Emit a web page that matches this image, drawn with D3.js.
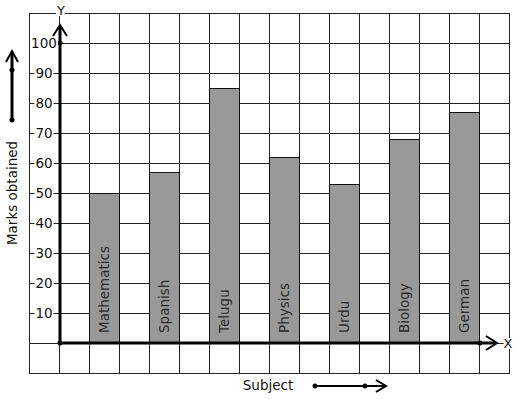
<!DOCTYPE html>
<html><head><meta charset="utf-8">
<script src="https://cdn.jsdelivr.net/npm/d3@7"></script>
<style>body{margin:0;background:#fff}svg{display:block}text{font-family:"DejaVu Sans",sans-serif}</style>
</head><body><svg id="c" width="517" height="399"></svg>
<script>
const categories = ["Mathematics","Spanish","Telugu","Physics","Urdu","Biology","German"];
const marks = [50,57,85,62,53,68,77];
const yTicks = [10,20,30,40,50,60,70,80,90,100];
const xTitle = "Subject", yTitle = "Marks obtained";

const svg = d3.select("#c");
const x = d3.scaleBand().domain(categories).range([60,510]).paddingInner(0.5).paddingOuter(0.5);
const y = d3.scaleLinear().domain([0,100]).range([343,43]);
const gx = d3.scaleLinear().domain([-1,15]).range([30,510]);
const gy = d3.scaleLinear().domain([-1,11]).range([373,13]);

// grid
const grid = svg.append("g").attr("stroke","#222").attr("stroke-width",1);
d3.range(-1,16).forEach(i=>grid.append("line").attr("x1",gx(i)-0.5).attr("x2",gx(i)-0.5).attr("y1",13).attr("y2",373));
d3.range(-1,12).forEach(j=>grid.append("line").attr("y1",Math.round(gy(j))+0.5).attr("y2",Math.round(gy(j))+0.5).attr("x1",29).attr("x2",510));

// bars
svg.append("g").selectAll("rect").data(marks).join("rect")
 .attr("x",(d,i)=>x(categories[i])-0.5).attr("width",x.bandwidth())
 .attr("y",d=>y(d)+0.5).attr("height",d=>y(0)-y(d))
 .attr("fill","#999").attr("stroke","#111").attr("stroke-width",1);

// bar labels
svg.append("g").selectAll("text").data(categories).join("text")
 .attr("transform",d=>`translate(${x(d)+x.bandwidth()/2+4},${y(0)-10}) rotate(-90)`)
 .attr("font-size",13.5).attr("fill","#2a2a2a").text(d=>d);

// axes
const ax = svg.append("g").attr("stroke","#000").attr("stroke-width",3).attr("fill","none");
ax.append("line").attr("x1",60).attr("x2",60).attr("y1",y(0)).attr("y2",26);
ax.append("line").attr("x1",60).attr("x2",496).attr("y1",y(0)).attr("y2",y(0));
ax.append("path").attr("stroke-width",2).attr("d","M53,36 L60,25 L67,36");
ax.append("path").attr("stroke-width",2).attr("d","M486,336 L497,343 L486,350");
[[60,y(0)],[60,y(100)],[480,y(0)]].forEach(p=>svg.append("circle").attr("cx",p[0]).attr("cy",p[1]).attr("r",2.5).attr("fill","#000"));

// y tick labels with white background
const tl = svg.append("g");
yTicks.forEach(t=>{
  const g = tl.append("g");
  const txt = g.append("text").attr("x",44).attr("y",y(t)+5).attr("text-anchor","middle").attr("font-size",13.5).attr("fill","#111").text(t);
  const b = txt.node().getBBox();
  g.insert("rect","text").attr("x",b.x-1).attr("y",y(t)-3).attr("width",b.width+2).attr("height",6).attr("fill","#fff");
});

// axis letters
function boxed(tx,ty,s){
  const g = svg.append("g");
  const t = g.append("text").attr("x",tx).attr("y",ty).attr("text-anchor","middle").attr("font-size",13).attr("fill","#111").text(s);
  const b = t.node().getBBox();
  g.insert("rect","text").attr("x",b.x).attr("y",b.y+2).attr("width",b.width).attr("height",b.height-4).attr("fill","#fff");
}
boxed(61,15,"Y");
boxed(508,348,"X");

// titles
svg.append("text").attr("x",268).attr("y",390).attr("text-anchor","middle").attr("font-size",13.5).attr("fill","#111").text(xTitle);
svg.append("text").attr("transform","translate(17,193) rotate(-90)").attr("text-anchor","middle").attr("font-size",13.5).attr("fill","#111").text(yTitle);

// direction arrows
const da = svg.append("g").attr("stroke","#000").attr("fill","none");
da.append("line").attr("x1",315).attr("x2",385).attr("y1",386).attr("y2",386).attr("stroke-width",2);
da.append("path").attr("stroke-width",2).attr("d","M376,380 L386,386 L376,392");
da.append("line").attr("x1",12).attr("x2",12).attr("y1",120).attr("y2",52).attr("stroke-width",3);
da.append("path").attr("stroke-width",2).attr("d","M6,62 L12,51 L18,62");
[[315,386],[365,386],[12,120],[12,70]].forEach(p=>svg.append("circle").attr("cx",p[0]).attr("cy",p[1]).attr("r",2.5).attr("fill","#000"));
</script></body></html>
